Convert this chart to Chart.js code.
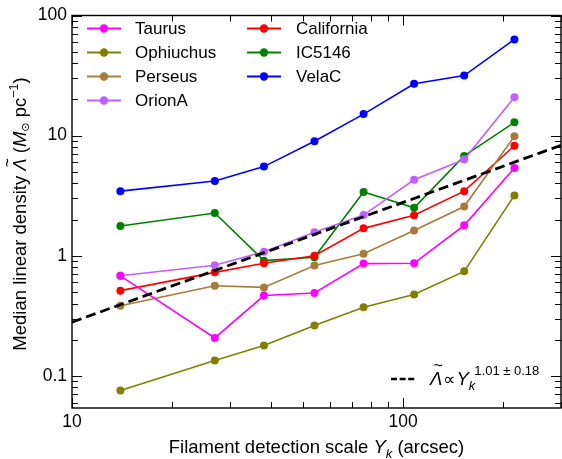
<!DOCTYPE html>
<html><head><meta charset="utf-8">
<script src="https://cdn.jsdelivr.net/npm/chart.js@4/dist/chart.umd.min.js"></script>
<style>html,body{margin:0;padding:0;background:#fff}#wrap{width:562px;height:459px}canvas{display:block}</style>
</head><body><div id="wrap"><canvas id="c" width="562" height="459"></canvas></div>
<script>
// Filament detection scale Y_k (arcsec)
const scalesY = [14, 27, 38, 54, 76, 108, 153, 217];
// Median linear density (Msun/pc)
const taurus     = [0.68, 0.207, 0.466, 0.49, 0.86, 0.866, 1.79, 5.37];
const ophiuchus  = [0.0755, 0.134, 0.179, 0.262, 0.372, 0.475, 0.741, 3.18];
const perseus    = [0.384, 0.562, 0.545, 0.829, 1.04, 1.62, 2.57, 9.87];
const orionA     = [0.682, 0.834, 1.08, 1.57, 2.18, 4.29, 6.33, 20.9];
const california = [0.512, 0.727, 0.865, 1.0, 1.69, 2.17, 3.45, 8.23];
const ic5146     = [1.77, 2.27, 0.91, 0.97, 3.39, 2.51, 6.78, 12.9];
const velaC      = [3.45, 4.19, 5.52, 8.99, 15.1, 27.0, 31.6, 63.2];
// power-law fit endpoints
const fitX = [10, 300];
const fitY = [0.28, 8.3];
// tick labels
const xTickVals = [10, 100];
const yTickVals = [0.1, 1, 10, 100];

const seriesNames  = ['Taurus','Ophiuchus','Perseus','OrionA','California','IC5146','VelaC'];
const seriesData   = [taurus, ophiuchus, perseus, orionA, california, ic5146, velaC];
const seriesColors = ['#ff00ff','#808000','#a57c3a','#bf5fff','#ff0000','#008000','#0000ff'];

const FAM = '"Liberation Sans", Arial, sans-serif';
const sf = (s, it) => (it ? 'italic ' : '') + s + 'px "Liberation Sans", "DejaVu Sans", sans-serif';
const LEGF = sf(17, false);
const TF = sf(18.5, false);
const TFI = sf(18.5, true);

function rich(ctx, segs, x, y, align) {
  let w = 0;
  segs.forEach(s => { ctx.font = s.f; s.w = ctx.measureText(s.t).width; w += s.w + (s.dx || 0); });
  let cx = align === 'center' ? x - w / 2 : x;
  segs.forEach(s => {
    cx += (s.dx || 0);
    ctx.font = s.f;
    ctx.fillText(s.t, cx, y + (s.dy || 0));
    if (s.tilde) {
      ctx.font = sf(16, false);
      const tw = ctx.measureText('~').width;
      ctx.fillText('~', cx + s.w / 2 - tw / 2 + 2, y - 13.5);
    }
    cx += s.w;
  });
}

const decor = {
  id: 'decor',
  afterDraw(chart) {
    const { ctx, chartArea: a, scales: { x, y } } = chart;
    ctx.save();
    ctx.strokeStyle = '#000';
    ctx.fillStyle = '#000';
    ctx.lineWidth = 1;
    const majL = 10, minL = 6;
    for (let d = 1; d <= 2; d++) {
      for (let m = 1; m <= 9; m++) {
        const v = m * Math.pow(10, d);
        if (v < x.min || v > x.max) continue;
        const px = Math.round(x.getPixelForValue(v)) + 0.5;
        const L = m === 1 ? majL : minL;
        ctx.beginPath();
        ctx.moveTo(px, a.bottom); ctx.lineTo(px, a.bottom - L);
        ctx.moveTo(px, a.top); ctx.lineTo(px, a.top + L);
        ctx.stroke();
      }
    }
    for (let d = -2; d <= 2; d++) {
      for (let m = 1; m <= 9; m++) {
        const v = m * Math.pow(10, d);
        if (v < y.min * 0.999 || v > y.max * 1.001) continue;
        const py = Math.round(y.getPixelForValue(v)) + 0.5;
        const L = m === 1 ? majL : minL;
        ctx.beginPath();
        ctx.moveTo(a.left, py); ctx.lineTo(a.left + L, py);
        ctx.moveTo(a.right, py); ctx.lineTo(a.right - L, py);
        ctx.stroke();
      }
    }
    ctx.lineWidth = 1.4;
    ctx.strokeRect(a.left, a.top, a.right - a.left, a.bottom - a.top);

    // legend
    const rows = [28.5, 52.5, 76.5, 100.5];
    const cols = [{ l1: 87, l2: 121, m: 104, t: 135 }, { l1: 247, l2: 281, m: 264, t: 296 }];
    ctx.textBaseline = 'middle';
    ctx.textAlign = 'left';
    seriesNames.forEach((n, i) => {
      const c = cols[i < 4 ? 0 : 1];
      const ry = rows[i < 4 ? i : i - 4];
      ctx.strokeStyle = seriesColors[i];
      ctx.fillStyle = seriesColors[i];
      ctx.lineWidth = 2;
      ctx.beginPath(); ctx.moveTo(c.l1, ry); ctx.lineTo(c.l2, ry); ctx.stroke();
      ctx.beginPath(); ctx.arc(c.m, ry, 4.2, 0, Math.PI * 2); ctx.fill();
      ctx.fillStyle = '#000';
      ctx.font = LEGF;
      ctx.fillText(n, c.t, ry + 1);
    });

    // fit legend
    ctx.strokeStyle = '#000';
    ctx.lineWidth = 2.6;
    ctx.setLineDash([6, 2.6]);
    ctx.beginPath(); ctx.moveTo(391, 379); ctx.lineTo(416, 379); ctx.stroke();
    ctx.setLineDash([]);
    ctx.textBaseline = 'alphabetic';
    ctx.fillStyle = '#000';
    rich(ctx, [
      { t: '\u039B', f: TFI, tilde: true },
      { t: '\u221D', f: sf(17, false), dx: 1 },
      { t: 'Y', f: TFI, dx: 1 },
      { t: 'k', f: sf(13, true), dy: 5 },
      { t: '1.01 \u00B1 0.18', f: sf(13, false), dy: -10, dx: -1 }
    ], 430, 384.5, 'left');

    // x title
    rich(ctx, [
      { t: 'Filament detection scale ', f: TF },
      { t: 'Y', f: TFI },
      { t: 'k', f: sf(13, true), dy: 5 },
      { t: ' (arcsec)', f: TF }
    ], (a.left + a.right) / 2, 453, 'center');

    // y title
    ctx.save();
    ctx.translate(26, 214);
    ctx.rotate(-Math.PI / 2);
    rich(ctx, [
      { t: 'Median linear density ', f: TF },
      { t: '\u039B', f: TFI, tilde: true },
      { t: ' (', f: TF },
      { t: 'M', f: TFI },
      { t: '\u2299', f: sf(11, false), dy: 3 },
      { t: ' pc', f: TF },
      { t: '\u22121', f: sf(12.5, false), dy: -8 },
      { t: ')', f: TF }
    ], 0, 0, 'center');
    ctx.restore();
    ctx.restore();
  }
};

const datasets = [{
  label: 'fit',
  data: fitX.map((v, i) => ({ x: v, y: fitY[i] })),
  borderColor: '#000', borderWidth: 2.8, borderDash: [10, 5],
  pointRadius: 0, fill: false, order: 0
}].concat(seriesNames.map((n, i) => ({
  label: n,
  data: scalesY.map((v, j) => ({ x: v, y: seriesData[i][j] })),
  borderColor: seriesColors[i], backgroundColor: seriesColors[i],
  pointBackgroundColor: seriesColors[i], pointBorderColor: seriesColors[i],
  borderWidth: 1.6, pointRadius: 4, pointBorderWidth: 0, tension: 0, fill: false,
  order: 1 + i
})));

new Chart(document.getElementById('c').getContext('2d'), {
  type: 'line',
  data: { datasets },
  options: {
    responsive: false, animation: false, devicePixelRatio: 1,
    layout: { padding: { top: 7, right: 1, left: 0, bottom: 0 }, autoPadding: false },
    plugins: { legend: { display: false }, tooltip: { enabled: false } },
    scales: {
      x: {
        type: 'logarithmic', min: 10, max: 300,
        grid: { display: false, drawTicks: false }, border: { display: false },
        afterBuildTicks: s => { s.ticks = xTickVals.map(v => ({ value: v })); },
        afterFit: s => { s.height = 51; },
        ticks: { callback: v => String(v), color: '#000', font: { family: FAM, size: 17.5 }, padding: 4, maxRotation: 0, autoSkip: false }
      },
      y: {
        type: 'logarithmic', min: 0.054, max: 100,
        grid: { display: false, drawTicks: false }, border: { display: false },
        afterBuildTicks: s => { s.ticks = yTickVals.map(v => ({ value: v })); },
        afterFit: s => { s.width = 72; },
        ticks: { callback: v => String(v), color: '#000', font: { family: FAM, size: 17.5 }, padding: 5, autoSkip: false }
      }
    }
  },
  plugins: [decor]
});
</script></body></html>
